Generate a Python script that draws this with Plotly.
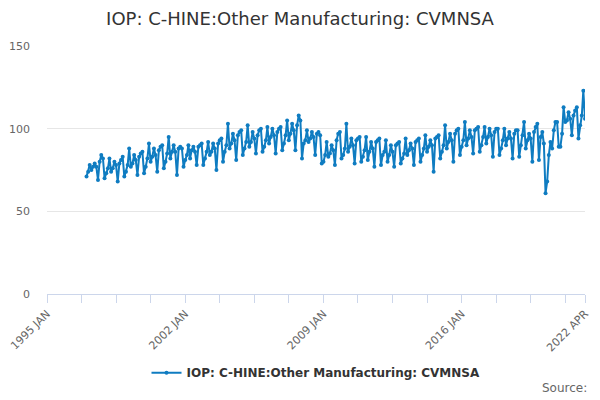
import plotly.graph_objects as go
import pandas as pd

# Monthly index values, Jan 1997 - Apr 2022
start_month = "1997-01-01"
values = [
    71, 74, 78, 75, 77, 79, 77, 69, 80, 84, 82, 70,    # 1997
    73, 76, 82, 74, 76, 80, 78, 68, 79, 81, 83, 71,    # 1998
    74, 78, 88, 77, 79, 84, 81, 72, 83, 85, 86, 73,    # 1999
    77, 82, 91, 80, 83, 88, 84, 74, 87, 89, 90, 76,    # 2000
    80, 85, 95, 82, 86, 90, 86, 72, 88, 89, 88, 77,    # 2001
    81, 84, 90, 82, 87, 89, 86, 78, 89, 90, 91, 78,    # 2002
    82, 86, 92, 84, 86, 91, 88, 75, 91, 93, 94, 80,    # 2003
    86, 90, 103, 88, 91, 97, 93, 81, 96, 98, 99, 84,   # 2004
    88, 92, 102, 89, 92, 98, 94, 85, 96, 99, 100, 86,  # 2005
    89, 93, 101, 91, 95, 100, 96, 85, 98, 100, 101, 87,  # 2006
    91, 96, 105, 93, 97, 103, 99, 87, 102, 108, 105, 82,  # 2007
    91, 93, 99, 92, 94, 98, 95, 84, 97, 98, 96, 79,    # 2008
    80, 84, 92, 83, 85, 90, 87, 78, 93, 97, 98, 82,    # 2009
    84, 88, 103, 86, 89, 94, 90, 79, 93, 94, 95, 80,   # 2010
    83, 87, 95, 81, 86, 92, 88, 77, 92, 93, 94, 78,    # 2011
    84, 86, 93, 80, 84, 90, 86, 77, 90, 91, 92, 79,    # 2012
    82, 85, 94, 84, 87, 91, 88, 78, 92, 93, 94, 80,    # 2013
    84, 88, 96, 86, 89, 93, 90, 74, 94, 95, 96, 82,    # 2014
    86, 90, 102, 88, 92, 97, 93, 80, 97, 99, 100, 84,  # 2015
    89, 93, 104, 90, 94, 99, 95, 85, 99, 100, 101, 86,  # 2016
    90, 95, 101, 91, 95, 100, 96, 83, 98, 100, 100, 84,  # 2017
    88, 93, 100, 90, 94, 98, 94, 82, 97, 99, 99, 83,   # 2018
    90, 96, 104, 88, 93, 97, 94, 80, 98, 101, 103, 81,  # 2019
    95, 98, 91, 61, 68, 84, 92, 88, 99, 104, 104, 89,  # 2020
    89, 97, 113, 104, 105, 110, 106, 96, 108, 111, 113, 94,  # 2021
    102, 108, 123, 106,                                 # 2022
]

# x-axis ticks every 21 months from 1995 JAN, plus the end tick
tick_dates = pd.date_range("1995-01-01", periods=16, freq="21MS").tolist() + [pd.Timestamp("2022-04-01")]
tick_labels = ["1995 JAN", "", "", "", "2002 JAN", "", "", "", "2009 JAN", "", "", "",
               "2016 JAN", "", "", "", "2022 APR"]

series_name = "IOP: C-HINE:Other Manufacturing: CVMNSA"

dates = pd.date_range(start_month, periods=len(values), freq="MS")

fig = go.Figure()
fig.add_trace(go.Scatter(
    x=dates,
    y=values,
    name=series_name,
    mode="lines+markers",
    line=dict(color="#0f7cc1", width=2),
    marker=dict(size=4, color="#0f7cc1"),
))

# page body adds ~8px offset, so the figure is a bit smaller than the window
fig.update_layout(
    width=584,
    height=384,
    font=dict(family="DejaVu Sans", color="#666666", size=11),
    title=dict(text=series_name, x=0.5, xanchor="center", y=0.971, yanchor="middle",
               font=dict(size=18, color="#333333")),
    margin=dict(l=39, r=7, t=38, b=98),
    plot_bgcolor="white",
    paper_bgcolor="white",
    showlegend=True,
    legend=dict(orientation="h", x=0.5, xanchor="center",
                yref="container", y=0.05, yanchor="middle",
                font=dict(size=12, color="#333333", weight="bold")),
    xaxis=dict(
        type="date",
        range=["1995-01-01", "2022-04-01"],
        tickvals=tick_dates,
        ticktext=tick_labels,
        tickangle=-45,
        ticks="outside",
        ticklen=8,
        tickcolor="#ccd6eb",
        showgrid=False,
        showline=True,
        linecolor="#ccd6eb",
        zeroline=False,
        automargin=False,
    ),
    yaxis=dict(
        range=[0, 150],
        tickvals=[0, 50, 100, 150],
        showgrid=True,
        gridcolor="#e6e6e6",
        zeroline=False,
        ticks="",
        ticklabelstandoff=16,
        automargin=False,
    ),
    annotations=[dict(
        text="Source:", xref="paper", yref="paper", x=1.008, y=-0.38,
        xanchor="right", yanchor="middle", showarrow=False,
        font=dict(size=12, color="#666666"),
    )],
)

fig.write_html("out.html")
